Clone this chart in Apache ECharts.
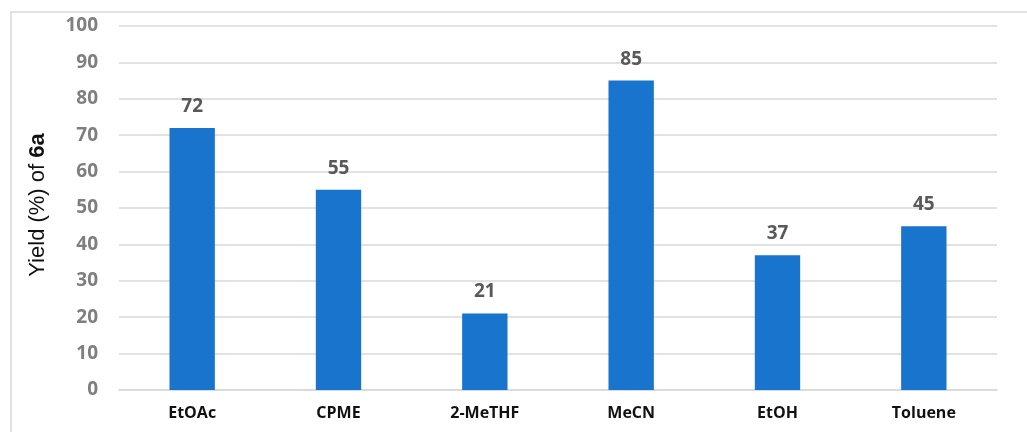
<!DOCTYPE html>
<html><head><meta charset="utf-8">
<script src="https://cdn.jsdelivr.net/npm/echarts@6/dist/echarts.min.js"></script>
<style>html,body{margin:0;padding:0;background:#fff}#c{width:1027px;height:432px}</style>
</head><body><div id="c"></div>
<script>
const categories = ['EtOAc', 'CPME', '2-MeTHF', 'MeCN', 'EtOH', 'Toluene'];
const yields = [72, 55, 21, 85, 37, 45];
const chart = echarts.init(document.getElementById('c'));
const font = '"Open Sans", "Noto Sans", sans-serif';
const nameFont = '"Liberation Sans", Arial, sans-serif';
chart.setOption({
  animation: false,
  textStyle: { fontFamily: font },
  graphic: [{ type: 'rect', shape: { x: 11, y: 12, width: 1040, height: 440 }, style: { fill: 'none', stroke: '#d9d9d9', lineWidth: 1.5 }, silent: true }],
  grid: { left: 119, right: 30, top: 26, bottom: 42, containLabel: false },
  xAxis: {
    type: 'category', data: categories,
    axisLine: { lineStyle: { color: '#d9d9d9', width: 1.5 } },
    axisTick: { show: false },
    axisLabel: { color: '#111', fontWeight: 'bold', fontSize: 16, margin: 15, fontFamily: font }
  },
  yAxis: {
    type: 'value', min: 0, max: 100, interval: 10,
    name: '{n|Yield (%) of }{b|6a}', nameLocation: 'middle', nameGap: 70, nameRotate: 90,
    nameTextStyle: { fontSize: 22, color: '#111', fontFamily: nameFont, padding: [0, 0, 0, 6], rich: { n: { fontSize: 22, color: '#111', fontFamily: nameFont }, b: { fontSize: 22, color: '#111', fontWeight: 'bold', fontFamily: nameFont } } },
    axisLine: { show: false }, axisTick: { show: false },
    axisLabel: { color: '#7f7f7f', fontWeight: 'bold', fontSize: 19, margin: 21, fontFamily: font },
    splitLine: { lineStyle: { color: '#d9d9d9', width: 1.5 } }
  },
  series: [{
    type: 'bar', data: yields, barWidth: '31%',
    itemStyle: { color: '#1874cd' },
    label: { show: true, position: 'top', distance: 12, color: '#595959', fontWeight: 'bold', fontSize: 19, fontFamily: font }
  }]
});
</script></body></html>
